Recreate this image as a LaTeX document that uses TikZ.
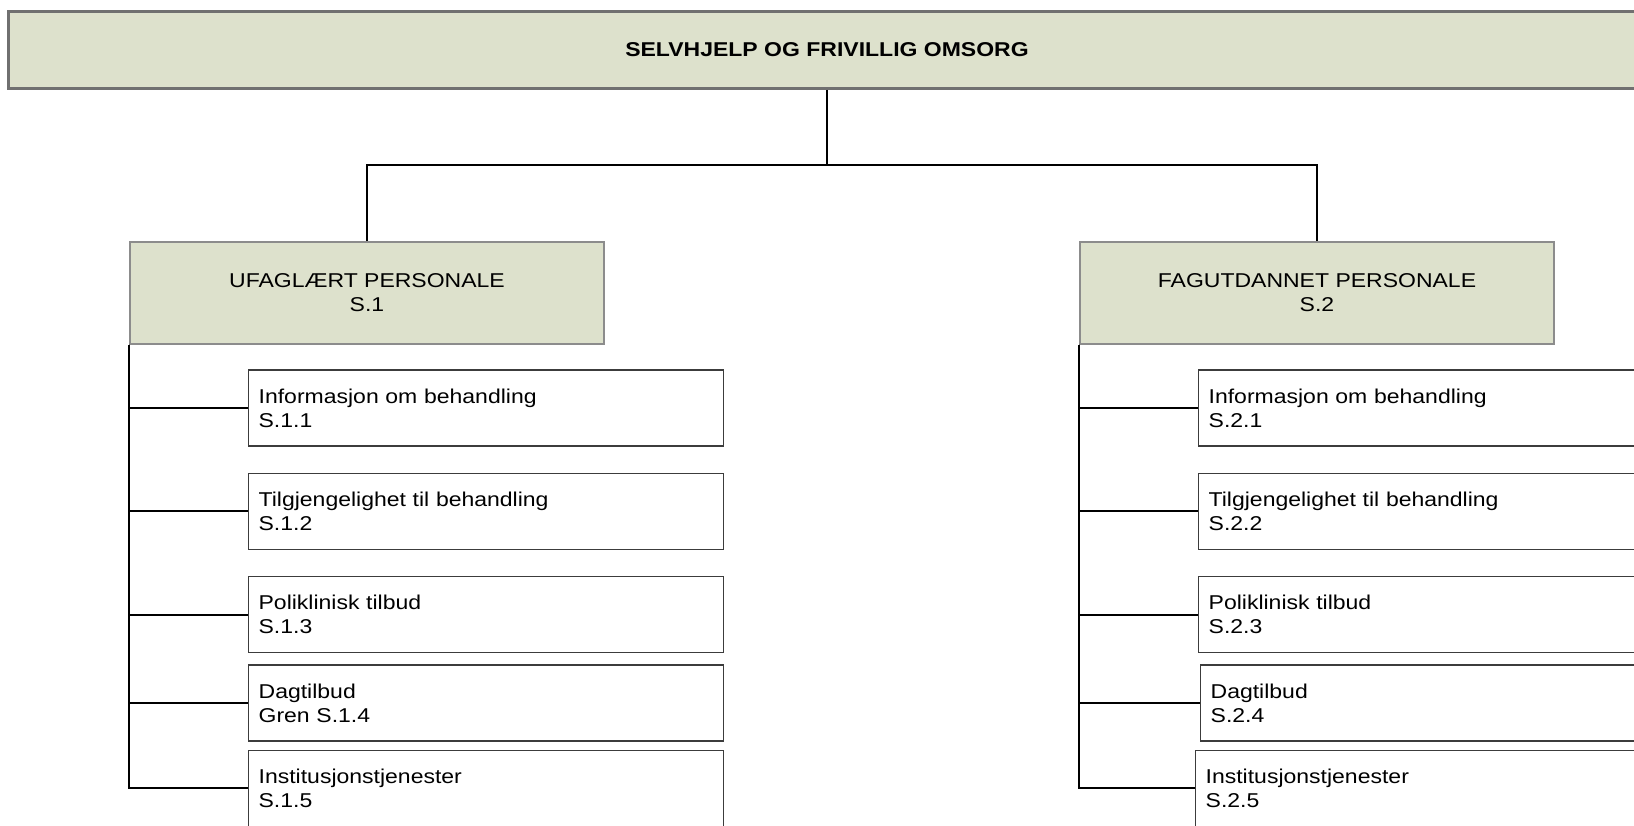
\documentclass[tikz,border=0pt]{standalone}
\usepackage{fontspec}
\setmainfont[FakeStretch=1.15]{Liberation Sans}
\usepackage{tikz}
\usetikzlibrary{positioning}
\definecolor{sage}{RGB}{221,225,204}
\definecolor{rootline}{RGB}{112,112,112}
\definecolor{headline}{RGB}{140,140,140}
\definecolor{leafline}{RGB}{60,60,60}
\tikzset{
  every node/.append style={font=\fontsize{20}{24}\selectfont},
  link/.style={draw=black, line width=2pt}
}

\begin{document}
\begin{tikzpicture}[
  x=1pt, y=-1pt,
  node distance=26pt,
  rootbox/.style={draw=rootline, line width=3pt, fill=sage, minimum width=1638pt, minimum height=77pt,
                  font=\fontsize{20}{24}\selectfont\bfseries},
  headbox/.style={draw=headline, line width=1.5pt, fill=sage, align=center, minimum width=474pt, minimum height=102pt},
  leafbox/.style={draw=leafline, line width=1.3pt, fill=white, align=left, text width=455pt, inner xsep=10pt, minimum height=76pt}
]
\useasboundingbox (0,0) rectangle (1634,826);
\clip (0,0) rectangle (1634,826);

% Top level and the two groups
\node[rootbox] (root) at (827,50) {SELVHJELP OG FRIVILLIG OMSORG};
\node[headbox] (s1) at (367,293) {UFAGLÆRT PERSONALE\\S.1};
\node[headbox] (s2) at (1317,293) {FAGUTDANNET PERSONALE\\S.2};

% Left group
\node[leafbox, anchor=west] (s11) at (248,408) {Informasjon om behandling\\S.1.1};
\node[leafbox, below=of s11] (s12) {Tilgjengelighet til behandling\\S.1.2};
\node[leafbox, below=of s12] (s13) {Poliklinisk tilbud\\S.1.3};
\node[leafbox, below=11pt of s13] (s14) {Dagtilbud\\Gren S.1.4};
\node[leafbox, below=8pt of s14] (s15) {Institusjonstjenester\\S.1.5};

% Right group
\node[leafbox, anchor=west] (s21) at (1198,408) {Informasjon om behandling\\S.2.1};
\node[leafbox, below=of s21] (s22) {Tilgjengelighet til behandling\\S.2.2};
\node[leafbox, below=of s22] (s23) {Poliklinisk tilbud\\S.2.3};
\node[leafbox, below=11pt of s23, xshift=2pt] (s24) {Dagtilbud\\S.2.4};
\node[leafbox, below=8pt of s24, xshift=-5pt] (s25) {Institusjonstjenester\\S.2.5};

% Connectors
\coordinate (split) at (827,165);
\draw[link] (root) -- (split);
\draw[link] (s1.north) |- (split) -| (s2.north);
\foreach \leaf in {s11,s12,s13,s14,s15}
  \draw[link] (s1.south west) |- (\leaf.west);
\foreach \leaf in {s21,s22,s23,s24,s25}
  \draw[link] (s2.south west) |- (\leaf.west);

\end{tikzpicture}
\end{document}
